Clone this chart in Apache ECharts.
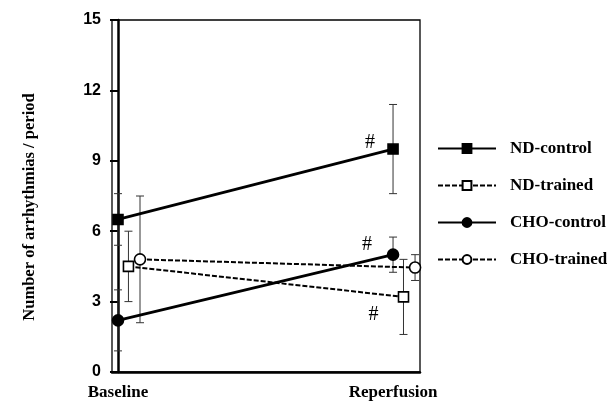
<!DOCTYPE html>
<html><head><meta charset="utf-8">
<script src="https://cdn.jsdelivr.net/npm/echarts@6/dist/echarts.min.js"></script>
<style>html,body{margin:0;padding:0;background:#fff}#c{width:612px;height:401px}</style>
</head><body><div id="c"></div>
<script>
var categories = ['Baseline', 'Reperfusion'];
var seriesNames = ['ND-control', 'ND-trained', 'CHO-control', 'CHO-trained'];
var ndControl = [6.5, 9.5];
var ndControlErr = [1.1, 1.9];
var ndTrained = [4.5, 3.2];
var ndTrainedErr = [1.5, 1.6];
var choControl = [2.2, 5.0];
var choControlErr = [1.3, 0.75];
var choTrained = [4.8, 4.45];
var choTrainedErr = [2.7, 0.55];
var significant = [[false, true], [false, true], [false, true], [false, false]];
var yTicks = [0, 3, 6, 9, 12, 15];

// layout (dodge of markers within a category, in category units)
var dodge = [0, 0.038, 0, 0.08];
var symbols = ['rect', 'rect', 'circle', 'circle'];
var filled = [true, false, true, false];
var dashed = [false, true, false, true];
var labelOffsets = [[-23, -6], [-30, 18], [-26, -10], [0, 0]];
var values = [ndControl, ndTrained, choControl, choTrained];
var errs = [ndControlErr, ndTrainedErr, choControlErr, choTrainedErr];

var serif = '"Liberation Serif", "DejaVu Serif", serif';
var sans = '"Liberation Sans", Arial, sans-serif';

var series = [];
values.forEach(function (vals, s) {
  series.push({
    name: seriesNames[s],
    type: 'line',
    data: vals.map(function (v, i) { return [i + dodge[s], v]; }),
    symbol: symbols[s],
    symbolSize: symbols[s] === 'rect' ? 10 : 11,
    itemStyle: { color: filled[s] ? '#000' : '#fff', borderColor: '#000', borderWidth: 1.6 },
    lineStyle: { color: '#000', width: dashed[s] ? 2 : 2.8, type: dashed[s] ? [5, 2] : 'solid' },
    z: 5,
    label: {
      show: true,
      formatter: function (p) { return significant[s][p.dataIndex] ? '#' : ''; },
      position: 'inside',
      offset: labelOffsets[s],
      fontFamily: serif, fontSize: 20, color: '#000'
    },
    emphasis: { disabled: true }
  });
  series.push({
    type: 'custom',
    name: seriesNames[s] + '-err',
    data: vals.map(function (v, i) { return [i + dodge[s], v - errs[s][i], v + errs[s][i]]; }),
    renderItem: function (params, api) {
      var lo = api.coord([api.value(0), api.value(1)]);
      var hi = api.coord([api.value(0), api.value(2)]);
      var w = 4;
      var st = { stroke: '#333', lineWidth: 1 };
      return { type: 'group', children: [
        { type: 'line', shape: { x1: lo[0], y1: lo[1], x2: hi[0], y2: hi[1] }, style: st },
        { type: 'line', shape: { x1: lo[0] - w, y1: lo[1], x2: lo[0] + w, y2: lo[1] }, style: st },
        { type: 'line', shape: { x1: hi[0] - w, y1: hi[1], x2: hi[0] + w, y2: hi[1] }, style: st }
      ]};
    },
    z: 3,
    silent: true
  });
});

var chart = echarts.init(document.getElementById('c'));
chart.setOption({
  animation: false,
  backgroundColor: '#fff',
  grid: { left: 112, top: 20, right: 192, bottom: 29, show: true, borderColor: '#000', borderWidth: 1.3, backgroundColor: 'transparent' },
  xAxis: {
    type: 'value', min: -0.0218, max: 1.098,
    axisLine: { show: true, onZero: false, lineStyle: { color: '#000', width: 2.5 } },
    axisTick: { show: false }, splitLine: { show: false },
    axisLabel: {
      show: true, margin: 12,
      customValues: [0, 1],
      formatter: function (v) { return categories[Math.round(v)]; },
      fontFamily: serif, fontWeight: 'bold', fontSize: 17, color: '#000'
    }
  },
  yAxis: {
    type: 'value', min: 0, max: 15, interval: 3,
    name: 'Number of arrhythmias / period',
    nameLocation: 'middle', nameGap: 74, nameRotate: 90,
    nameTextStyle: { fontFamily: serif, fontWeight: 'bold', fontSize: 16.5, color: '#000', padding: [0, 22, 0, 0] },
    axisLine: { show: true, lineStyle: { color: '#000', width: 2.5 } },
    axisTick: { show: true, length: 8, lineStyle: { color: '#000', width: 2 } },
    splitLine: { show: false },
    axisLabel: {
      margin: 11, fontFamily: sans, fontWeight: 'bold', fontSize: 16, color: '#000',
      formatter: function (v) { return yTicks.indexOf(v) >= 0 ? String(v) : ''; }
    }
  },
  legend: {
    orient: 'vertical', left: 432, top: 135,
    itemWidth: 58, itemHeight: 11, itemGap: 20,
    data: seriesNames,
    textStyle: { fontFamily: serif, fontWeight: 'bold', fontSize: 17, color: '#000', padding: [0, 0, 0, 9] },
    selectedMode: false
  },
  series: series
});
</script></body></html>
